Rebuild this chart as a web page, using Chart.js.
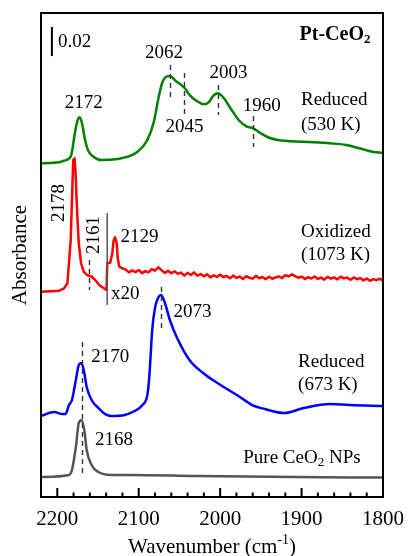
<!DOCTYPE html>
<html>
<head>
<meta charset="utf-8">
<script src="https://cdn.jsdelivr.net/npm/chart.js@4.4.0/dist/chart.umd.min.js"></script>
<style>
  html, body { margin: 0; padding: 0; background: #fff; }
  #wrap { width: 414px; height: 556px; }
</style>
</head>
<body>
<div id="wrap"><canvas id="ftir" width="414" height="556"></canvas></div>
<script>
// CO-DRIFTS spectra, stacked (absorbance x 10^-3, offsets already included)
const reduced530Wn = [2220, 2198, 2192, 2183.5, 2181.6, 2178.4, 2175.6, 2172.5, 2169.6, 2166.3, 2162.4, 2155.5, 2146,
  2125.5, 2113.5, 2101.4, 2089.4, 2081.4, 2075.4, 2071.4, 2067.4, 2062, 2053.4, 2048, 2043.4, 2037.4, 2029.3,
  2019.4, 2013.3, 2009.3, 2003.2, 1995.3, 1987.3, 1977.3, 1967.2, 1959.3, 1951.2, 1941.2, 1929.2, 1897.1, 1865,
  1845.1, 1829, 1813, 1800];
const reduced530Abs = [230.1, 230.8, 231.9, 234.7, 239.3, 251.0, 258.8, 261.9, 257.7, 247.4, 239.3, 234.7, 232.4,
  233.1, 234.7, 238.1, 246.2, 258.8, 276.1, 285.3, 289.4, 290.3, 286.4, 284.3, 281.9, 277.2, 273.3,
  270.8, 272.6, 276.1, 278.4, 275.0, 268.1, 260.0, 255.4, 254.3, 251.2, 248.1, 246.2, 245.0, 243.9,
  242.8, 240.5, 238.1, 237.4];

// oxidized sample; below 2139 cm-1 the trace is magnified x20
const oxidizedWn = [2220, 2197.6, 2191.6, 2187.6, 2183.5, 2181.6, 2180.4, 2178.7, 2177.5, 2175.6, 2173.6, 2170.8,
  2167.5, 2163.6, 2157.6, 2153.5, 2147.5, 2139.5, 2138.6, 2135, 2132.4, 2130.8, 2129, 2127, 2125.8, 2123.8, 2119.8,
  2116, 2112, 2108, 2104, 2100, 2096, 2092, 2088, 2084, 2080, 2076, 2072, 2068, 2064, 2060, 2056, 2052, 2048,
  2044, 2040, 2036, 2032, 2028, 2024, 2020, 2016, 2012, 2008, 2004, 2000, 1996, 1992, 1988, 1984, 1980, 1976,
  1972, 1968, 1964, 1960, 1956, 1952, 1948, 1944, 1940, 1936, 1932, 1928, 1924, 1920, 1916, 1912, 1908, 1904,
  1900, 1896, 1892, 1888, 1884, 1880, 1876, 1872, 1868, 1864, 1860, 1856, 1852, 1848, 1844, 1840, 1836, 1832,
  1828, 1824, 1820, 1816, 1812, 1808, 1804, 1800];
const oxidizedAbs = [141.6, 142.3, 143.9, 147.4, 177.2, 211.7, 232.4, 233.6, 223.2, 195.7, 175.0, 161.2,
  155.4, 153.1, 151.9, 149.7, 145.7, 142.8, 161.4, 161.6, 168.3, 177.2, 179.1, 175.0, 164.6, 158.8, 157.7,
  156.8, 154.9, 156.3, 155.1, 156.6, 154.4, 155.8, 154.9, 157.2, 156.1, 158.4, 156.5, 154.6, 156.0, 154.3, 155.7, 153.9, 154.8,
  152.7, 154.6, 153.1, 154.9, 152.6, 153.8, 152.2, 153.6, 151.4, 152.9, 151.8, 153.5, 151.6, 152.4, 150.8, 152.7, 151.1, 152.0,
  150.4, 152.3, 151.2, 150.6, 152.5, 150.9, 151.7, 150.2, 151.9, 150.5, 151.4, 152.2, 151.0, 153.0, 152.1, 153.6, 152.4, 151.2,
  152.0, 150.3, 151.6, 150.7, 152.1, 150.4, 151.3, 149.9, 151.8, 150.6, 151.5, 150.1, 152.0, 150.8, 151.3, 149.8, 151.4, 150.2,
  151.0, 149.4, 150.6, 149.1, 150.3, 149.6, 150.5, 149.2];

const reduced673Wn = [2220, 2203.6, 2194, 2190, 2185.6, 2182, 2177.2, 2173.6, 2170.6, 2167.5, 2163.9, 2157.9, 2149.5,
  2141.1, 2133.9, 2117.1, 2105, 2095.4, 2089.4, 2087, 2083.4, 2079.8, 2076.2, 2072.6, 2067.8, 2061.8, 2053.4,
  2037.7, 2020.9, 2005.3, 1989.7, 1977.6, 1960.8, 1945.2, 1921.2, 1897.1, 1864.7, 1840.6, 1800];
const reduced673Abs = [55.9, 58.6, 57.2, 57.2, 63.4, 66.9, 80.7, 91.0, 92.4, 87.6, 75.9, 66.9, 61.4,
  57.2, 55.9, 56.6, 59.3, 63.4, 70.3, 82.8, 115.2, 131.0, 137.2, 139.3, 133.8, 122.1, 110.3,
  94.5, 85.5, 79.3, 73.8, 69.7, 63.4, 60.7, 57.9, 61.4, 64.1, 63.4, 62.8];

const pureCeO2Wn = [2220, 2185.6, 2182, 2177.2, 2173.6, 2170, 2166.3, 2163.9, 2157.9, 2149.5, 2133.9, 2109.9, 2029, 1909, 1800];
const pureCeO2Abs = [13.8, 15.2, 18.6, 34.5, 51.0, 53.1, 44.1, 32.4, 22.1, 17.2, 15.2, 15.2, 14.5, 13.8, 13.4];

const xTicks = [2200, 2100, 2000, 1900, 1800];

// peak markers and labels (wavenumber, absorbance position)
const peakMarks = [
  { wn: 2062, from: 297.9, to: 275.9 },
  { wn: 2045, from: 292.4, to: 262.1 },
  { wn: 2003, from: 284.1, to: 263.4 },
  { wn: 1960, from: 262.8, to: 241.4 },
  { wn: 2161, from: 163.4, to: 142.8 },
  { wn: 2073, from: 144.8, to: 115.2 },
  { wn: 2170, from: 106.9, to: 13.8 }
];
const peakLabels = [
  { text: '2172', wn: 2167.5, abs: 271.7 },
  { text: '2062', wn: 2069, abs: 306.2 },
  { text: '2045', wn: 2043.8, abs: 255.2 },
  { text: '2003', wn: 1989.7, abs: 292.4 },
  { text: '1960', wn: 1948.8, abs: 269.7 },
  { text: '2178', wn: 2197.6, abs: 202.8, rotate: true },
  { text: '2161', wn: 2155.5, abs: 180.7, rotate: true },
  { text: '2129', wn: 2099, abs: 179.3 },
  { text: 'x20', wn: 2116.5, abs: 140 },
  { text: '2073', wn: 2034, abs: 127.6 },
  { text: '2170', wn: 2135, abs: 96.6 },
  { text: '2168', wn: 2130.3, abs: 39.3 }
];
const sampleLabels = [
  { lines: ['Reduced', '(530 K)'], wn: 1900.7, abs: [273.8, 256.6] },
  { lines: ['Oxidized', '(1073 K)'], wn: 1900.7, abs: [182.8, 166.9] },
  { lines: ['Reduced', '(673 K)'], wn: 1904.3, abs: [93.1, 77.2] }
];

const SERIF = '"Liberation Serif"';

function toPoints(xs, ys) {
  return xs.map((x, i) => ({ x: x, y: ys[i] }));
}

function richText(ctx, parts, x, y, align) {
  // parts: [{t, font, dy}]
  let total = 0;
  parts.forEach(p => { ctx.font = p.font; total += ctx.measureText(p.t).width; });
  let cx = align === 'right' ? x - total : (align === 'center' ? x - total / 2 : x);
  ctx.textAlign = 'left';
  ctx.textBaseline = 'middle';
  parts.forEach(p => {
    ctx.font = p.font;
    ctx.fillText(p.t, cx, y + (p.dy || 0));
    cx += ctx.measureText(p.t).width;
  });
}

const decor = {
  id: 'decor',
  afterDraw(chart) {
    const { ctx, chartArea: a, scales: { x, y } } = chart;
    ctx.save();

    // frame
    ctx.strokeStyle = '#000';
    ctx.lineWidth = 2;
    ctx.strokeRect(a.left, a.top, a.right - a.left, a.bottom - a.top);

    // inward ticks every 20 cm-1
    ctx.lineWidth = 2;
    x.ticks.forEach(t => {
      if (t.value >= 2220 || t.value <= 1800) return;
      const px = x.getPixelForValue(t.value);
      const len = t.value % 100 === 0 ? 9 : 4.5;
      ctx.beginPath();
      ctx.moveTo(px, a.bottom);
      ctx.lineTo(px, a.bottom - len);
      ctx.stroke();
    });

    // dashed peak markers
    ctx.strokeStyle = '#333';
    ctx.lineWidth = 1.4;
    ctx.setLineDash([5, 4]);
    peakMarks.forEach(m => {
      const px = Math.round(x.getPixelForValue(m.wn)) + 0.5;
      ctx.beginPath();
      ctx.moveTo(px, y.getPixelForValue(m.from));
      ctx.lineTo(px, y.getPixelForValue(m.to));
      ctx.stroke();
    });
    ctx.setLineDash([]);

    // x20 separator
    ctx.strokeStyle = '#555';
    ctx.lineWidth = 1.5;
    const sx = x.getPixelForValue(2138.7);
    ctx.beginPath();
    ctx.moveTo(sx, y.getPixelForValue(195.9));
    ctx.lineTo(sx, y.getPixelForValue(132.4));
    ctx.stroke();

    // 0.02 scale bar (20 x 10^-3)
    ctx.strokeStyle = '#000';
    ctx.lineWidth = 2;
    const bx = x.getPixelForValue(2206.6);
    ctx.beginPath();
    ctx.moveTo(bx, y.getPixelForValue(324.1));
    ctx.lineTo(bx, y.getPixelForValue(304.1));
    ctx.stroke();

    ctx.fillStyle = '#000';
    ctx.font = '19px ' + SERIF;
    ctx.textAlign = 'left';
    ctx.textBaseline = 'middle';
    ctx.fillText('0.02', bx + 6, y.getPixelForValue(314.1));

    // peak labels
    peakLabels.forEach(l => {
      const px = x.getPixelForValue(l.wn);
      const py = y.getPixelForValue(l.abs);
      ctx.font = '19px ' + SERIF;
      ctx.textBaseline = 'middle';
      if (l.rotate) {
        ctx.save();
        ctx.translate(px, py);
        ctx.rotate(-Math.PI / 2);
        ctx.textAlign = 'center';
        ctx.fillText(l.text, 0, 0);
        ctx.restore();
      } else {
        ctx.textAlign = 'center';
        ctx.fillText(l.text, px, py);
      }
    });

    // sample labels
    sampleLabels.forEach(s => {
      const px = x.getPixelForValue(s.wn);
      s.lines.forEach((line, i) => {
        ctx.font = '19px ' + SERIF;
        ctx.textAlign = 'left';
        ctx.textBaseline = 'middle';
        ctx.fillText(line, px, y.getPixelForValue(s.abs[i]));
      });
    });

    const f19 = '19px ' + SERIF;
    const f13 = '13px ' + SERIF;
    richText(ctx, [
      { t: 'Pure CeO', font: f19 },
      { t: '2', font: f13, dy: 5 },
      { t: ' NPs', font: f19 }
    ], x.getPixelForValue(1971.6), y.getPixelForValue(26.9), 'left');

    richText(ctx, [
      { t: 'Pt-CeO', font: 'bold 20px ' + SERIF },
      { t: '2', font: 'bold 13px ' + SERIF, dy: 5 }
    ], x.getPixelForValue(1815.4), y.getPixelForValue(318.6), 'right');

    // axis titles
    const cx = (a.left + a.right) / 2;
    richText(ctx, [
      { t: 'Wavenumber (cm', font: '21px ' + SERIF },
      { t: '-1', font: '14px ' + SERIF, dy: -7 },
      { t: ')', font: '21px ' + SERIF }
    ], cx, 547, 'center');

    ctx.save();
    ctx.translate(20, (a.top + a.bottom) / 2);
    ctx.rotate(-Math.PI / 2);
    ctx.font = '21px ' + SERIF;
    ctx.textAlign = 'center';
    ctx.textBaseline = 'middle';
    ctx.fillText('Absorbance', 0, 0);
    ctx.restore();

    ctx.restore();
  }
};

new Chart(document.getElementById('ftir'), {
  type: 'line',
  data: {
    datasets: [
      { label: 'Reduced (530 K)', data: toPoints(reduced530Wn, reduced530Abs), borderColor: '#008000' },
      { label: 'Oxidized (1073 K)', data: toPoints(oxidizedWn, oxidizedAbs), borderColor: '#ff0000',
        cubicInterpolationMode: 'default', tension: 0, borderJoinStyle: 'round' },
      { label: 'Reduced (673 K)', data: toPoints(reduced673Wn, reduced673Abs), borderColor: '#0000ff' },
      { label: 'Pure CeO2 NPs', data: toPoints(pureCeO2Wn, pureCeO2Abs), borderColor: '#555555' }
    ]
  },
  options: {
    responsive: false,
    animation: false,
    devicePixelRatio: 1,
    layout: { padding: { left: 41, right: 23, top: 13, bottom: 0 } },
    plugins: { legend: { display: false }, tooltip: { enabled: false } },
    elements: {
      point: { radius: 0 },
      line: { borderWidth: 2.5, cubicInterpolationMode: 'monotone', fill: false }
    },
    scales: {
      x: {
        type: 'linear',
        reverse: true,
        min: 1800,
        max: 2220,
        afterFit(s) { s.height = 59; },
        grid: { display: false, drawTicks: false, tickLength: 0 },
        border: { display: false },
        ticks: {
          stepSize: 20,
          autoSkip: false,
          maxRotation: 0,
          padding: 10,
          color: '#000',
          font: { family: SERIF, size: 21 },
          callback: v => xTicks.includes(v) ? String(v) : ''
        }
      },
      y: { display: false, min: 0, max: 333.8 }
    }
  },
  plugins: [decor]
});
</script>
</body>
</html>
